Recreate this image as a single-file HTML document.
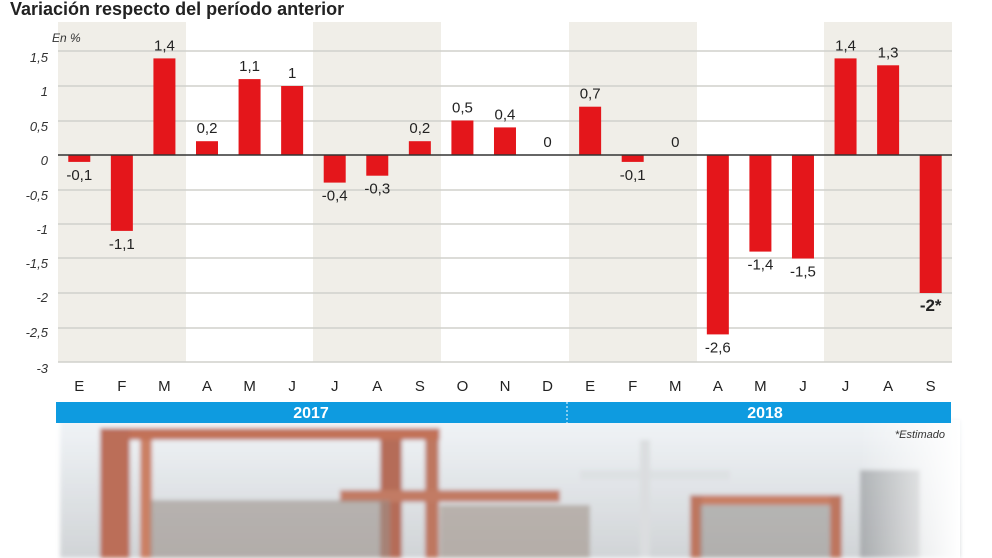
<!DOCTYPE html>
<html><head><meta charset="utf-8"><style>
html,body{margin:0;padding:0;background:#fff;width:992px;height:558px;overflow:hidden}
svg text{font-family:"Liberation Sans",Arial,sans-serif}
</style></head><body>
<svg width="992" height="558" viewBox="0 0 992 558" xmlns="http://www.w3.org/2000/svg">
<defs>
<linearGradient id="fadeR" x1="0" x2="1"><stop offset="0.75" stop-color="#fff" stop-opacity="0"/><stop offset="1" stop-color="#fff" stop-opacity="1"/></linearGradient>
<linearGradient id="fadeT" x1="0" y1="0" x2="0" y2="1"><stop offset="0" stop-color="#eef2f6"/><stop offset="1" stop-color="#c9cdd0"/></linearGradient>
<filter id="bl"><feGaussianBlur stdDeviation="2"/></filter>
</defs>
<g filter="url(#bl)" opacity="0.85">
<rect x="60" y="420" width="900" height="138" fill="url(#fadeT)"/>
<rect x="100" y="428" width="340" height="12" fill="#b85a3a"/>
<rect x="100" y="428" width="30" height="130" fill="#b0553a"/>
<rect x="140" y="440" width="12" height="118" fill="#c26a4a"/>
<rect x="380" y="440" width="22" height="118" fill="#a9523a"/>
<rect x="425" y="440" width="14" height="118" fill="#b36045"/>
<rect x="340" y="490" width="220" height="12" fill="#b8654a"/>
<rect x="150" y="500" width="240" height="58" fill="#8c8178" opacity="0.6"/>
<rect x="440" y="505" width="150" height="53" fill="#9a8d83" opacity="0.7"/>
<rect x="580" y="470" width="150" height="10" fill="#d8dcdf"/>
<rect x="640" y="440" width="10" height="118" fill="#d5d8da"/>
<rect x="690" y="495" width="150" height="10" fill="#c0694a"/>
<rect x="690" y="495" width="12" height="63" fill="#b35e43"/>
<rect x="830" y="495" width="12" height="63" fill="#b35e43"/>
<rect x="700" y="505" width="130" height="53" fill="#8a8580" opacity="0.6"/>
<rect x="860" y="470" width="60" height="88" fill="#7b7f82" opacity="0.6"/>
</g>
<rect x="560" y="420" width="400" height="138" fill="url(#fadeR)"/>
<rect x="58" y="22" width="128" height="340" fill="#f0eee8"/>
<rect x="313" y="22" width="128" height="340" fill="#f0eee8"/>
<rect x="569" y="22" width="128" height="340" fill="#f0eee8"/>
<rect x="824" y="22" width="128" height="340" fill="#f0eee8"/>
<g stroke="#d0d0cc" stroke-width="1.5">
<line x1="58" x2="952" y1="51" y2="51"/><line x1="58" x2="952" y1="86" y2="86"/><line x1="58" x2="952" y1="121" y2="121"/>
<line x1="58" x2="952" y1="190" y2="190"/><line x1="58" x2="952" y1="224" y2="224"/><line x1="58" x2="952" y1="258" y2="258"/>
<line x1="58" x2="952" y1="293" y2="293"/><line x1="58" x2="952" y1="328" y2="328"/><line x1="58" x2="952" y1="362" y2="362"/>
</g>
<text x="10" y="15" font-size="18" font-weight="bold" fill="#222">Variación respecto del período anterior</text>
<g font-size="13" font-style="italic" fill="#333" text-anchor="end">
<text x="52" y="42" text-anchor="start" font-size="12">En %</text>
<text x="48" y="62">1,5</text><text x="48" y="96">1</text><text x="48" y="131">0,5</text><text x="48" y="165">0</text>
<text x="48" y="200">-0,5</text><text x="48" y="234">-1</text><text x="48" y="268">-1,5</text><text x="48" y="302">-2</text>
<text x="48" y="337">-2,5</text><text x="48" y="373">-3</text>
</g>
<g id="bars" fill="#e4161b"></g>
<line x1="58" x2="952" y1="155" y2="155" stroke="#333" stroke-width="1.5"/>
<g id="labels" font-size="15" fill="#222" text-anchor="middle"></g>
<g id="months" font-size="15" fill="#222" text-anchor="middle"></g>
<rect x="56" y="402" width="895" height="21" fill="#0e9be0"/>
<line x1="567" x2="567" y1="402" y2="423" stroke="#fff" stroke-dasharray="2,2"/>
<text x="311" y="418" font-size="16" font-weight="bold" fill="#fff" text-anchor="middle">2017</text>
<text x="765" y="418" font-size="16" font-weight="bold" fill="#fff" text-anchor="middle">2018</text>
<text x="945" y="438" font-size="11" font-style="italic" fill="#333" text-anchor="end">*Estimado</text>
</svg>
<script>
var v=[-0.1,-1.1,1.4,0.2,1.1,1,-0.4,-0.3,0.2,0.5,0.4,0,0.7,-0.1,0,-2.6,-1.4,-1.5,1.4,1.3,-2];
var m="EFMAMJJASONDEFMAMJJAS";
var ns="http://www.w3.org/2000/svg",b=document.getElementById('bars'),l=document.getElementById('labels'),mo=document.getElementById('months');
v.forEach(function(x,i){
 var cx=58+42.57*(i+0.5),y0=155,y1=155-x*69;
 var r=document.createElementNS(ns,'rect');r.setAttribute('x',cx-11);r.setAttribute('width',22);
 r.setAttribute('y',Math.min(y0,y1));r.setAttribute('height',Math.abs(y1-y0));b.appendChild(r);
 var t=document.createElementNS(ns,'text');t.setAttribute('x',cx);
 var s=(''+x).replace('.',',');
 if(i==20){s='-2*';t.setAttribute('font-weight','bold');t.setAttribute('font-size','17');}
 t.setAttribute('y',x>=0?y1-8:y1+18);t.textContent=s;l.appendChild(t);
 var u=document.createElementNS(ns,'text');u.setAttribute('x',cx);u.setAttribute('y',391);u.textContent=m[i];mo.appendChild(u);
});
</script>
</body></html>
